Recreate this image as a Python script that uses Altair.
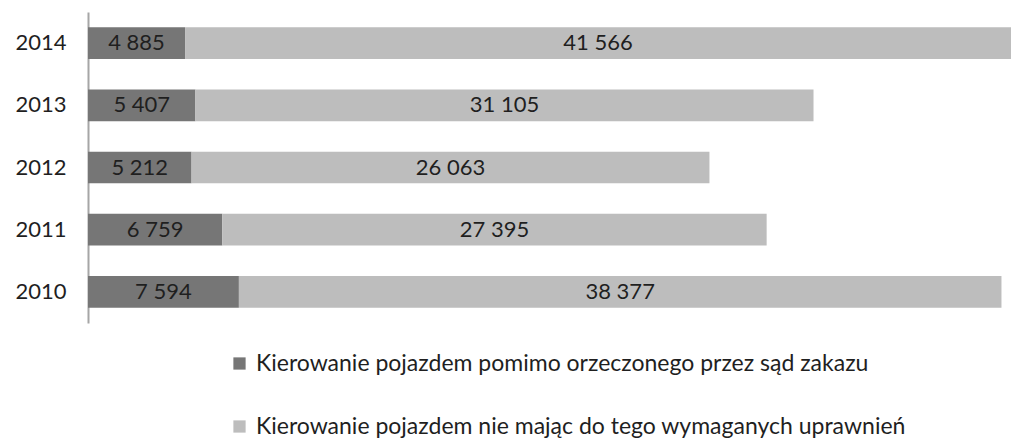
import altair as alt
import pandas as pd

years = ["2014", "2013", "2012", "2011", "2010"]
zakaz = [4885, 5407, 5212, 6759, 7594]
bez_uprawnien = [41566, 31105, 26063, 27395, 38377]
series_names = [
    "Kierowanie pojazdem pomimo orzeczonego przez sąd zakazu",
    "Kierowanie pojazdem nie mając do tego wymaganych uprawnień",
]
colors = ["#767676", "#bdbdbd"]

rows = []
for i, y in enumerate(years):
    for k, (name, vals) in enumerate(zip(series_names, [zakaz, bez_uprawnien])):
        v = vals[i]
        rows.append({
            "year": y,
            "series": name,
            "order": k,
            "value": v,
            "label": f"{v:,}".replace(",", " "),
        })
df = pd.DataFrame(rows)

FONT = "Lato"

base = alt.Chart(df).encode(
    y=alt.Y("year:N", sort=years, title=None,
            scale=alt.Scale(paddingInner=0.49, paddingOuter=0.245),
            axis=alt.Axis(domainColor="#a6a6a6", domainWidth=2, ticks=False,
                          labelFontSize=22, labelFont=FONT, labelColor="#1f1f1f",
                          labelPadding=22)),
)

bars = base.mark_bar().encode(
    x=alt.X("value:Q", stack="zero", title=None,
            scale=alt.Scale(domain=[0, 46451], nice=False, zero=True),
            axis=None),
    color=alt.Color("series:N", sort=series_names,
                    scale=alt.Scale(domain=series_names, range=colors),
                    legend=alt.Legend(title=None, orient="none", legendX=140, legendY=340,
                                      direction="vertical", symbolType="square",
                                      symbolSize=150, symbolStrokeWidth=0,
                                      labelFontSize=23, labelFont=FONT, labelColor="#1f1f1f",
                                      labelOffset=5, rowPadding=39, labelLimit=900)),
    order=alt.Order("order:Q"),
)

labels = base.mark_text(fontSize=22, font=FONT, color="#1f1f1f").encode(
    x=alt.X("mid:Q", scale=alt.Scale(domain=[0, 46451], nice=False)),
    text="label:N",
).transform_stack(
    stack="value", groupby=["year"], sort=[alt.SortField("order")], as_=["x0", "x1"]
).transform_calculate(mid="(datum.x0 + datum.x1) / 2")

chart = (bars + labels).properties(
    width=923, height=311,
    autosize=alt.AutoSizeParams(type="none"),
    padding={"left": 80, "top": 4, "right": 5, "bottom": 120},
).configure_view(stroke=None)

chart.save("out.html", embed_options={"renderer": "svg", "actions": False})
